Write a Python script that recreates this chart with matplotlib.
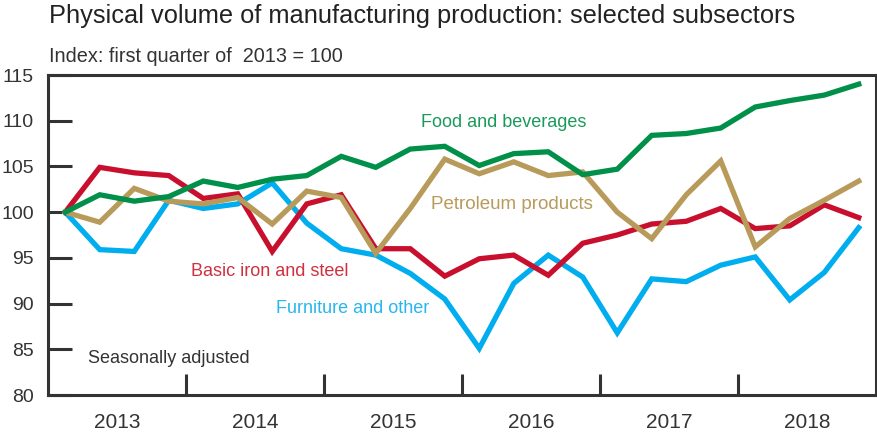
import matplotlib
matplotlib.use("Agg")
import matplotlib.pyplot as plt
import numpy as np

plt.rcParams['font.family'] = ['Liberation Sans', 'DejaVu Sans']

years = ["2013", "2014", "2015", "2016", "2017", "2018"]

# quarterly index, 2013Q1 = 100
food = [100.0, 101.9, 101.2, 101.7, 103.4, 102.7, 103.6, 104.0,
        106.1, 104.9, 106.9, 107.2, 105.1, 106.4, 106.6, 104.1,
        104.7, 108.4, 108.6, 109.2, 111.5, 112.2, 112.8, 114.0]
petroleum = [100.0, 98.9, 102.6, 101.2, 100.9, 101.6, 98.7, 102.3,
             101.6, 95.5, 100.4, 105.8, 104.2, 105.5, 104.0, 104.4,
             100.0, 97.1, 101.9, 105.6, 96.2, 99.3, 101.3, 103.4]
iron_steel = [100.0, 104.9, 104.3, 104.0, 101.5, 102.0, 95.7, 100.9,
              101.9, 96.0, 96.0, 93.0, 94.9, 95.3, 93.1, 96.6,
              97.5, 98.7, 99.0, 100.4, 98.2, 98.5, 100.8, 99.4]
furniture = [100.0, 95.9, 95.7, 101.3, 100.4, 100.9, 103.2, 98.8,
             96.0, 95.3, 93.3, 90.5, 85.1, 92.2, 95.3, 92.9,
             86.8, 92.7, 92.4, 94.2, 95.1, 90.4, 93.4, 98.3]

c_food = "#00904a"
c_pet = "#b89b5b"
c_iron = "#c8102e"
c_furn = "#00aeef"
c_axis = "#333333"

fig = plt.figure(figsize=(8.78, 4.33), dpi=100)
ax = fig.add_axes([48 / 878, 38 / 433, 828 / 878, 320 / 433])

x = np.arange(len(food))
lw = 3.8
ax.plot(x, furniture, color=c_furn, lw=lw, solid_joinstyle='miter')
ax.plot(x, iron_steel, color=c_iron, lw=lw, solid_joinstyle='miter')
ax.plot(x, petroleum, color=c_pet, lw=lw, solid_joinstyle='miter')
ax.plot(x, food, color=c_food, lw=lw, solid_joinstyle='miter')

ax.set_xlim(-0.5, len(food) - 0.5)
ax.set_ylim(80, 115)

for s in ax.spines.values():
    s.set_color(c_axis)
    s.set_linewidth(2.2)

ax.set_yticks(range(80, 116, 5))
ax.tick_params(axis='y', direction='in', length=17, width=2.2, color=c_axis,
               labelsize=14, labelcolor="#333333", pad=10)

# year separators as ticks, year names as minor labels
ax.set_xticks([4 * k - 0.5 for k in range(1, len(years))])
ax.set_xticklabels([])
ax.tick_params(axis='x', which='major', direction='in', length=15, width=2.2,
               color=c_axis)
ax.set_xticks([4 * k + 1.5 for k in range(len(years))], minor=True)
ax.set_xticklabels(years, minor=True)
ax.tick_params(axis='x', which='minor', length=0, labelsize=15,
               labelcolor="#333333", pad=13)

# direct labels
ax.text(10.3, 109.8, "Food and beverages", color="#1a9a5a", fontsize=13,
        ha='left', va='center')
ax.text(10.6, 100.8, "Petroleum products", color=c_pet, fontsize=13.5,
        ha='left', va='center')
ax.text(3.65, 93.5, "Basic iron and steel", color="#d0303e", fontsize=13,
        ha='left', va='center')
ax.text(6.1, 89.5, "Furniture and other", color="#27b7ee", fontsize=13,
        ha='left', va='center')
ax.text(0.65, 84.0, "Seasonally adjusted", color="#333333", fontsize=13,
        ha='left', va='center')

fig.text(49 / 878, 1 - 23 / 433, "Physical volume of manufacturing production: selected subsectors",
         fontsize=18.3, color="#222222", ha='left', va='baseline')
fig.text(49 / 878, 1 - 62 / 433, "Index: first quarter of  2013 = 100",
         fontsize=14.3, color="#333333", ha='left', va='baseline')

fig.savefig("out.png", dpi=100, facecolor='white')
